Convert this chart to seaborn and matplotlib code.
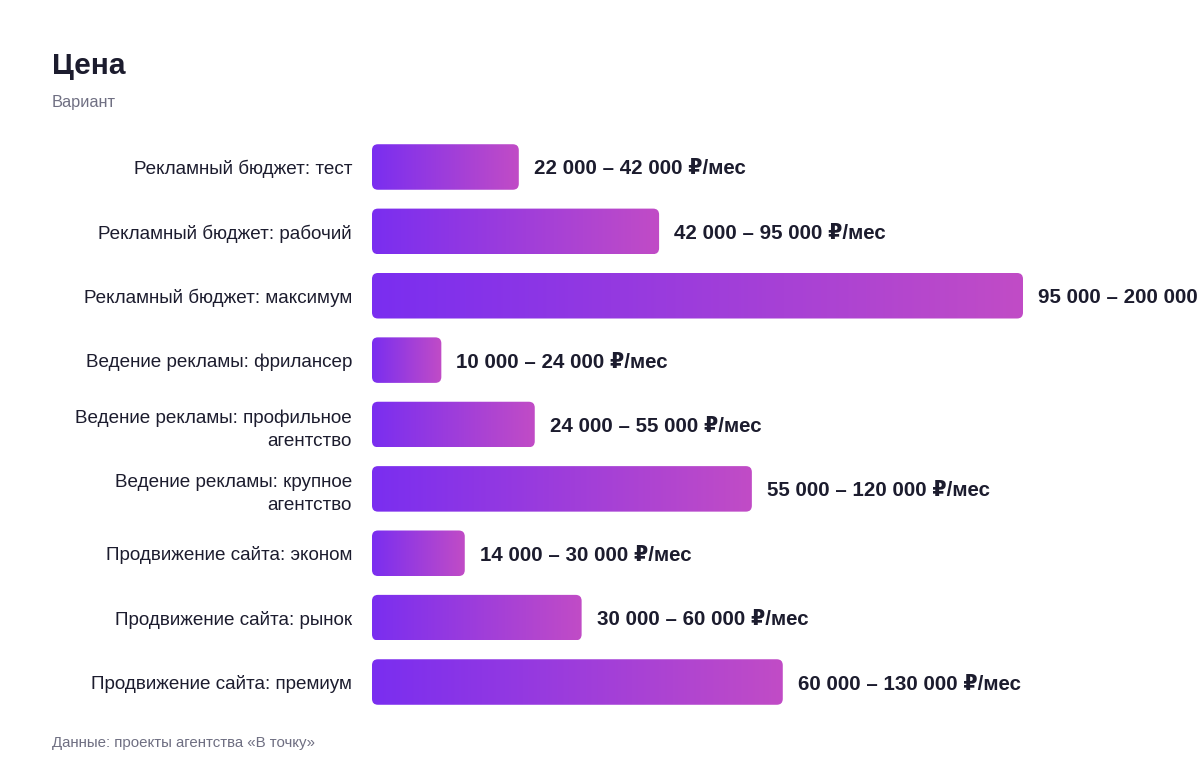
import textwrap
import numpy as np
import pandas as pd
import matplotlib
matplotlib.use("Agg")
import matplotlib.pyplot as plt
import seaborn as sns
from matplotlib.patches import FancyBboxPatch
from matplotlib.colors import LinearSegmentedColormap

# Данные
services = [
    "Рекламный бюджет: тест",
    "Рекламный бюджет: рабочий",
    "Рекламный бюджет: максимум",
    "Ведение рекламы: фрилансер",
    "Ведение рекламы: профильное агентство",
    "Ведение рекламы: крупное агентство",
    "Продвижение сайта: эконом",
    "Продвижение сайта: рынок",
    "Продвижение сайта: премиум",
]
price_low = [22000, 42000, 95000, 10000, 24000, 55000, 14000, 30000, 60000]
price_high = [42000, 95000, 200000, 24000, 55000, 120000, 30000, 60000, 130000]
# длина полос (оценка по картинке, усл. ед.)
bar_score = [45.1, 88.2, 200.0, 21.3, 50.0, 116.7, 28.5, 64.4, 126.2]

title = "Цена"
subtitle = "Вариант"
source = "Данные: проекты агентства «В точку»"

TEXT = "#1c1c2e"
GRAY = "#6f6f82"

def fmt(v):
    return f"{v:,}".replace(",", " ")

df = pd.DataFrame({"service": services, "score": bar_score})

sns.set_theme(style="white")
plt.rcParams["font.family"] = ["Liberation Sans", "DejaVu Sans"]

fig = plt.figure(figsize=(12, 7.76), dpi=100)
ax = fig.add_axes([372 / 1200, 1 - 714.2 / 776, 651 / 1200, 579.4 / 776])

sns.barplot(data=df, x="score", y="service", orient="h", width=0.707,
            color="#7B2FF0", ax=ax)
ax.set_xlim(0, 200)
ax.set_ylim(8.5, -0.5)

cmap = LinearSegmentedColormap.from_list("grad", ["#7A2EF0", "#C14CC6"])
grad = np.linspace(0, 1, 256).reshape(1, -1)

px_x = 651 / 200          # пикселей на единицу x
px_y = 579.4 / 9          # пикселей на единицу y
rs = 6 / px_x
aspect = (6 / px_y) / rs

for i, patch in enumerate(ax.patches):
    x0, y0 = patch.get_x(), patch.get_y()
    w, h = patch.get_width(), patch.get_height()
    patch.set_visible(False)
    box = FancyBboxPatch((x0, y0), w, h,
                         boxstyle=f"round,pad=0,rounding_size={rs}",
                         mutation_aspect=aspect, facecolor="none",
                         edgecolor="none", transform=ax.transData)
    ax.add_patch(box)
    im = ax.imshow(grad, extent=(x0, x0 + w, y0 + h, y0), cmap=cmap,
                   aspect="auto", zorder=2, interpolation="bilinear")
    im.set_clip_path(box)
    label = f"{fmt(price_low[i])} – {fmt(price_high[i])} ₽/мес"
    ax.text(x0 + w + 15 / px_x, y0 + h / 2 + 2 / px_y, label, va="center",
            ha="left", fontsize=14.8, fontweight="bold", color=TEXT,
            clip_on=False)

ax.set_xlim(0, 200)
ax.set_ylim(8.5, -0.5)
ax.set_yticks(range(len(services)))
ax.set_yticklabels([textwrap.fill(s, 27) for s in services], fontsize=13.6,
                   color=TEXT, linespacing=1.45)
ax.tick_params(axis="y", length=0, pad=14.4)
ax.set_xticks([])
ax.set_xlabel("")
ax.set_ylabel("")
sns.despine(ax=ax, left=True, bottom=True)

fig.text(52 / 1200, 1 - 66 / 776, title, fontsize=21.5, fontweight="bold",
         color=TEXT, va="center", ha="left")
fig.text(52 / 1200, 1 - 102 / 776, subtitle, fontsize=11.8, color=GRAY,
         va="center", ha="left")
fig.text(52 / 1200, 1 - 743 / 776, source, fontsize=10.8, color=GRAY,
         va="center", ha="left")

fig.savefig("out.png", dpi=100)
